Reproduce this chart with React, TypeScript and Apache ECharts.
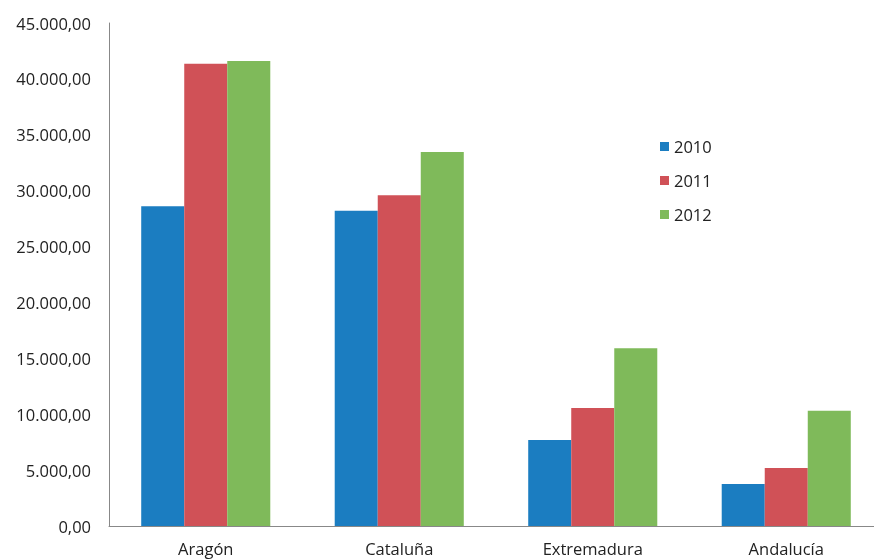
import React, { useEffect, useRef } from "react";
import * as echarts from "echarts";

const categories = ["Aragón", "Cataluña", "Extremadura", "Andalucía"];
const years = ["2010", "2011", "2012"];
const values2010 = [28600, 28200, 7700, 3750];
const values2011 = [41350, 29600, 10550, 5200];
const values2012 = [41600, 33450, 15900, 10300];
const colors = ["#1b7dc1", "#d05157", "#7fba5a"];

function fmt(v: number): string {
  const s = Math.round(v).toString().replace(/\B(?=(\d{3})+(?!\d))/g, ".");
  return s + ",00";
}

export default function App() {
  const ref = useRef<HTMLDivElement>(null);
  useEffect(() => {
    if (!ref.current) return;
    const chart = echarts.init(ref.current, undefined, { renderer: "svg" });
    const seriesData = [values2010, values2011, values2012];
    chart.setOption({
      animation: false,
      textStyle: { fontFamily: "Open Sans" },
      grid: { left: 109, right: 0, top: 23, bottom: 33 },
      legend: {
        orient: "vertical",
        left: 655,
        top: 133,
        itemWidth: 9,
        itemHeight: 9,
        itemGap: 17,
        icon: "rect",
        textStyle: { fontSize: 16.5, lineHeight: 16, color: "#222" },
        data: years,
      },
      xAxis: {
        type: "category",
        data: categories,
        axisLine: { lineStyle: { color: "#888", width: 1 } },
        axisTick: { show: false },
        axisLabel: { fontSize: 16.5, color: "#222", margin: 14 },
      },
      yAxis: {
        type: "value",
        min: 0,
        max: 45000,
        interval: 5000,
        axisLine: { show: true, lineStyle: { color: "#888", width: 1 } },
        axisTick: { show: false },
        splitLine: { show: false },
        axisLabel: { fontSize: 16.5, color: "#222", margin: 18, formatter: (v: number) => fmt(v) },
      },
      series: years.map((y, i) => ({
        name: y,
        type: "bar",
        data: seriesData[i],
        barGap: "0%",
        barCategoryGap: "33.3%",
        itemStyle: { color: colors[i] },
      })),
    });
    return () => chart.dispose();
  }, []);
  return <div ref={ref} style={{ position: "fixed", left: 0, top: 0, width: 883, height: 559 }} />;
}
